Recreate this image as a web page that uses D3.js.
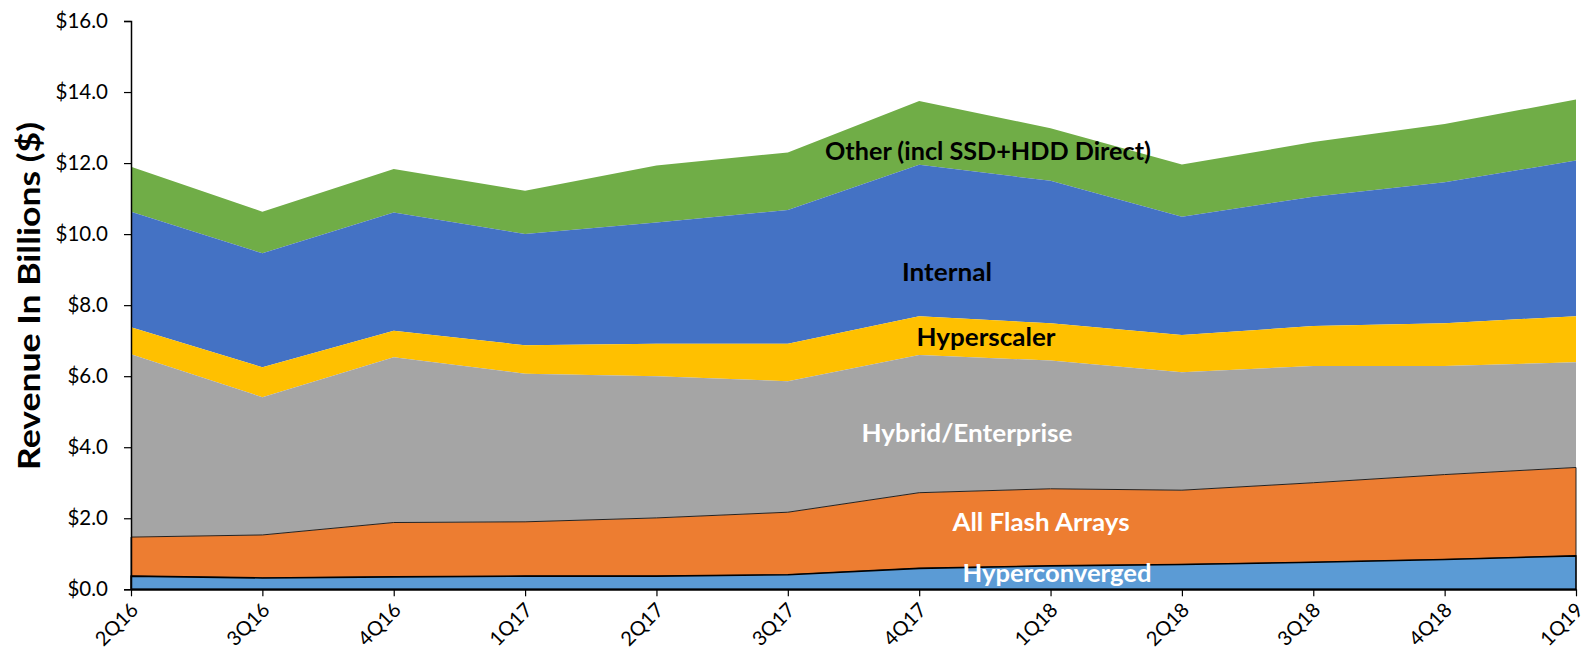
<!DOCTYPE html>
<html>
<head>
<meta charset="utf-8">
<script src="https://cdnjs.cloudflare.com/ajax/libs/d3/7.8.5/d3.min.js"></script>
<style>
  body { margin: 0; background: #fff; }
  text { font-family: Lato, "Open Sans", sans-serif; }
</style>
</head>
<body>
<div id="chart"></div>
<script>
// quarters on the x axis
var quarters = ["2Q16", "3Q16", "4Q16", "1Q17", "2Q17", "3Q17", "4Q17", "1Q18", "2Q18", "3Q18", "4Q18", "1Q19"];

// revenue per segment, billions of $
var hyperconverged = [0.37, 0.32, 0.35, 0.37, 0.37, 0.41, 0.59, 0.66, 0.70, 0.76, 0.84, 0.94];
var allFlash       = [1.10, 1.21, 1.53, 1.53, 1.64, 1.76, 2.13, 2.17, 2.09, 2.24, 2.39, 2.49];
var hybrid         = [5.15, 3.88, 4.65, 4.17, 3.99, 3.69, 3.88, 3.61, 3.32, 3.29, 3.06, 2.96];
var hyperscaler    = [0.76, 0.84, 0.75, 0.80, 0.91, 1.05, 1.09, 1.05, 1.05, 1.12, 1.20, 1.30];
var internal       = [3.25, 3.21, 3.33, 3.13, 3.42, 3.77, 4.26, 4.01, 3.33, 3.64, 3.97, 4.38];
var other          = [1.27, 1.17, 1.22, 1.22, 1.60, 1.62, 1.80, 1.48, 1.47, 1.54, 1.64, 1.72];

var yTicks = [0, 2, 4, 6, 8, 10, 12, 14, 16];

var seriesKeys = ["hyperconverged", "allFlash", "hybrid", "hyperscaler", "internal", "other"];
var colors = {
    hyperconverged: "#5B9BD5", allFlash: "#ED7D31", hybrid: "#A5A5A5",
    hyperscaler: "#FFC000", internal: "#4472C4", other: "#70AD47"
};

var rows = quarters.map(function (q, i) {
    return {
        q: q, hyperconverged: hyperconverged[i], allFlash: allFlash[i], hybrid: hybrid[i],
        hyperscaler: hyperscaler[i], internal: internal[i], other: other[i]
    };
});

var width = 1593, height = 659;
var margin = { left: 131, right: 1576, top: 21, bottom: 589.3 };

var svg = d3.select("#chart").append("svg")
    .attr("width", width)
    .attr("height", height);

var x = d3.scalePoint().domain(quarters).range([margin.left, margin.right]);
var y = d3.scaleLinear().domain([0, 16]).range([margin.bottom, margin.top]);

var stack = d3.stack().keys(seriesKeys);
var layers = stack(rows);

var area = d3.area()
    .x(function (d) { return x(d.data.q); })
    .y0(function (d) { return y(d[0]); })
    .y1(function (d) { return y(d[1]); });

svg.append("g").selectAll("path")
    .data(layers.slice().reverse())
    .enter().append("path")
    .attr("d", area)
    .attr("fill", function (d) { return colors[d.key]; })
    .attr("stroke", function (d) {
        if (d.key == "hyperconverged") return "#000";
        if (d.key == "allFlash") return "#222";
        else return "none";
    })
    .attr("stroke-width", function (d) { return d.key == "hyperconverged" ? 1.6 : 1; })
    .attr("stroke-linejoin", "round");

// axes
var yAxis = svg.append("g")
    .attr("transform", "translate(" + margin.left + ",0)")
    .call(d3.axisLeft(y).tickValues(yTicks).tickSize(7).tickPadding(16)
        .tickFormat(function (d) { return "$" + d3.format(".1f")(d); }));
yAxis.select(".domain").attr("stroke", "#000").attr("stroke-width", 1.5);
yAxis.selectAll(".tick line").attr("stroke", "#000").attr("stroke-width", 1.2);
yAxis.selectAll(".tick text")
    .attr("font-size", 20.5)
    .attr("fill", "#000")
    .style("font-family", "Lato, sans-serif");

var xAxis = svg.append("g")
    .attr("transform", "translate(0," + margin.bottom + ")")
    .call(d3.axisBottom(x).tickSize(7).tickSizeOuter(0));
xAxis.select(".domain").attr("stroke", "#000").attr("stroke-width", 2);
xAxis.selectAll(".tick line").attr("stroke", "#000").attr("stroke-width", 1.2);
xAxis.selectAll(".tick text")
    .attr("font-size", 20)
    .attr("fill", "#000")
    .attr("text-anchor", "end")
    .attr("dy", null)
    .attr("y", null)
    .attr("transform", "translate(8,22) rotate(-45)");

// y title
svg.append("text")
    .attr("transform", "translate(40,296) rotate(-90)")
    .attr("text-anchor", "middle")
    .attr("font-size", 30)
    .attr("font-weight", "bold")
    .attr("fill", "#000")
    .attr("textLength", 348)
    .attr("lengthAdjust", "spacingAndGlyphs")
    .text("Revenue In Billions ($)");

// in-chart labels
var labels = [
    { t: "Other (incl SSD+HDD Direct)", x: 988, y: 160, w: 326, c: "#000" },
    { t: "Internal", x: 947, y: 281, w: 90, c: "#000" },
    { t: "Hyperscaler", x: 986, y: 346, w: 139, c: "#000" },
    { t: "Hybrid/Enterprise", x: 967, y: 442, w: 211, c: "#fff" },
    { t: "All Flash Arrays", x: 1041, y: 531, w: 177, c: "#fff" },
    { t: "Hyperconverged", x: 1057, y: 582, w: 189, c: "#fff" }
];
svg.append("g").selectAll("text")
    .data(labels)
    .enter().append("text")
    .attr("x", function (d) { return d.x; })
    .attr("y", function (d) { return d.y; })
    .attr("text-anchor", "middle")
    .attr("font-size", 24)
    .attr("font-weight", "bold")
    .attr("fill", function (d) { return d.c; })
    .attr("textLength", function (d) { return d.w; })
    .attr("lengthAdjust", "spacingAndGlyphs")
    .text(function (d) { return d.t; });
</script>
</body>
</html>
